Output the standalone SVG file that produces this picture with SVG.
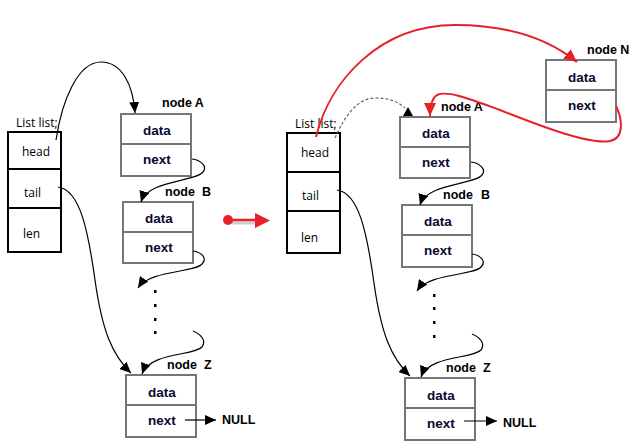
<svg xmlns="http://www.w3.org/2000/svg" width="634" height="441" viewBox="0 0 634 441">
<style>
.lst{fill:#fff;stroke:#000;stroke-width:2}
.nd{fill:#fff;stroke:#767676;stroke-width:2}
.lt{font-family:"Open Sans","Liberation Sans",sans-serif;font-size:12px;fill:#000}
.ft{font-family:"Liberation Sans",Arial,sans-serif;font-size:13.5px;font-weight:bold;fill:#0a0a30;text-anchor:middle}
.nl{font-family:"Liberation Sans",Arial,sans-serif;font-size:12.5px;font-weight:bold;fill:#000}
.c{fill:none;stroke:#000;stroke-width:1.2}
.r{fill:none;stroke:#e8202a;stroke-width:2}
.dot{fill:#000}
</style>
<defs>
<marker id="ah" markerUnits="userSpaceOnUse" markerWidth="12" markerHeight="10" refX="11" refY="5" orient="auto">
<path d="M0,0 L11,5 L0,10 Z" fill="#000"/>
</marker>
<marker id="ar" markerUnits="userSpaceOnUse" markerWidth="14" markerHeight="12" refX="13" refY="6" orient="auto">
<path d="M0,0 L13,6 L0,12 Z" fill="#e8202a"/>
</marker>
</defs>

<!-- Left panel -->
<g id="listL">
<text class="lt" x="16" y="127">List list;</text>
<rect class="lst" x="8" y="132" width="53" height="120"/>
<line x1="8" y1="169" x2="61" y2="169" stroke="#000" stroke-width="2"/>
<line x1="8" y1="208" x2="61" y2="208" stroke="#000" stroke-width="2"/>
<text class="lt" x="22" y="156">head</text>
<text class="lt" x="24" y="197">tail</text>
<text class="lt" x="23" y="238">len</text>
</g>
<g id="nodeAL">
<text class="nl" x="162" y="107">node A</text>
<rect class="nd" x="121" y="114" width="70" height="62"/>
<line x1="121" y1="144" x2="191" y2="144" stroke="#767676" stroke-width="2"/>
<text class="ft" x="157" y="135">data</text>
<text class="ft" x="157" y="164">next</text>
</g>
<g id="nodeBL">
<text class="nl" x="165" y="196">node<tspan x="202">B</tspan></text>
<rect class="nd" x="123" y="202" width="70" height="61"/>
<line x1="123" y1="232" x2="193" y2="232" stroke="#767676" stroke-width="2"/>
<text class="ft" x="159" y="223">data</text>
<text class="ft" x="159" y="252">next</text>
</g>
<g id="nodeZL">
<text class="nl" x="167" y="369">node<tspan x="204">Z</tspan></text>
<rect class="nd" x="126" y="375" width="70" height="62"/>
<line x1="126" y1="405" x2="196" y2="405" stroke="#767676" stroke-width="2"/>
<text class="ft" x="162" y="397">data</text>
<text class="ft" x="162" y="425">next</text>
<text class="nl" x="222" y="424">NULL</text>
</g>
<g id="dotsL">
<rect class="dot" x="154" y="290" width="2.5" height="3"/>
<rect class="dot" x="154" y="304" width="2.5" height="3"/>
<rect class="dot" x="154" y="318" width="2.5" height="3"/>
<rect class="dot" x="154" y="331" width="2.5" height="3"/>
</g>

<!-- transition arrow -->
<g id="trans">
<line x1="231" y1="223" x2="258" y2="223" stroke="#ccc" stroke-width="3"/>
<line x1="228" y1="220" x2="258" y2="220" stroke="#e8202a" stroke-width="2.5"/>
<circle cx="228" cy="220" r="5" fill="#e8202a"/>
<path d="M255,213 L270,220.5 L255,228 Z" fill="#e8202a"/>
</g>

<!-- Right panel -->
<g id="listR">
<text class="lt" x="295" y="128">List list;</text>
<rect class="lst" x="287" y="133" width="53" height="120"/>
<line x1="287" y1="172" x2="340" y2="172" stroke="#000" stroke-width="2"/>
<line x1="287" y1="211" x2="340" y2="211" stroke="#000" stroke-width="2"/>
<text class="lt" x="301" y="157">head</text>
<text class="lt" x="302" y="200">tail</text>
<text class="lt" x="301" y="242">len</text>
</g>
<g id="nodeAR">
<text class="nl" x="441" y="111">node A</text>
<rect class="nd" x="400" y="117" width="70" height="61"/>
<line x1="400" y1="147" x2="470" y2="147" stroke="#767676" stroke-width="2"/>
<text class="ft" x="436" y="138">data</text>
<text class="ft" x="436" y="167">next</text>
</g>
<g id="nodeN">
<text class="nl" x="587" y="54">node N</text>
<rect class="nd" x="546" y="60" width="70" height="62"/>
<line x1="546" y1="90" x2="616" y2="90" stroke="#767676" stroke-width="2"/>
<text class="ft" x="582" y="82">data</text>
<text class="ft" x="582" y="110">next</text>
</g>
<g id="nodeBR">
<text class="nl" x="443" y="199">node<tspan x="481">B</tspan></text>
<rect class="nd" x="402" y="205" width="70" height="62"/>
<line x1="402" y1="235" x2="472" y2="235" stroke="#767676" stroke-width="2"/>
<text class="ft" x="438" y="226">data</text>
<text class="ft" x="438" y="255">next</text>
</g>
<g id="nodeZR">
<text class="nl" x="446" y="372">node<tspan x="483">Z</tspan></text>
<rect class="nd" x="405" y="378" width="70" height="62"/>
<line x1="405" y1="408" x2="475" y2="408" stroke="#767676" stroke-width="2"/>
<text class="ft" x="441" y="400">data</text>
<text class="ft" x="441" y="428">next</text>
<text class="nl" x="503" y="427">NULL</text>
</g>
<g id="dotsR">
<rect class="dot" x="433" y="294" width="2.5" height="3"/>
<rect class="dot" x="433" y="307" width="2.5" height="3"/>
<rect class="dot" x="433" y="321" width="2.5" height="3"/>
<rect class="dot" x="433" y="335" width="2.5" height="3"/>
</g>

<g id="connectors">
<!-- left -->
<path class="c" d="M56,140 C62,100 78,62 101,62 C122,62 133,85 135,113" marker-end="url(#ah)"/>
<path class="c" d="M192,159 C200,160 208,166 203,172 C195,182 148,180 141,202" marker-end="url(#ah)"/>
<path class="c" d="M193,251 C201,252 208,258 202,264 C194,273 150,270 138,288" marker-end="url(#ah)"/>
<path class="c" d="M193,331 C200,334 207,340 202,347 C194,356 150,352 142,374" marker-end="url(#ah)"/>
<path class="c" d="M58,187 C80,190 88,230 95,280 C102,330 112,355 131,373" marker-end="url(#ah)"/>
<path class="c" d="M185,420 L216,420" marker-end="url(#ah)"/>
<!-- right -->
<path class="c" d="M471,162 C479,163 487,169 482,175 C474,185 427,183 420,205" marker-end="url(#ah)"/>
<path class="c" d="M472,254 C480,255 487,261 481,267 C473,276 429,273 417,291" marker-end="url(#ah)"/>
<path class="c" d="M472,334 C479,337 486,343 481,350 C473,359 429,355 421,377" marker-end="url(#ah)"/>
<path class="c" d="M337,190 C359,193 367,233 374,283 C381,333 391,358 410,376" marker-end="url(#ah)"/>
<path class="c" d="M464,421 L497,421" marker-end="url(#ah)"/>
<path fill="none" stroke="#666" stroke-width="1.2" stroke-dasharray="3,2" d="M335,138 C345,115 358,98 375,98 C390,98 398,102 405,108"/>
<path d="M403,116 L408,107 L413,116 Z" fill="#000"/>
<path class="r" d="M316,137 C330,80 380,25 455,25 C510,25 550,40 577,62" marker-end="url(#ar)"/>
<path class="r" d="M616,106 C622,118 625,138 610,141 C590,145 540,126 500,110 C470,99 447,90 437,95 C432,98 430,104 430,116" marker-end="url(#ar)"/>
</g>
</svg>
